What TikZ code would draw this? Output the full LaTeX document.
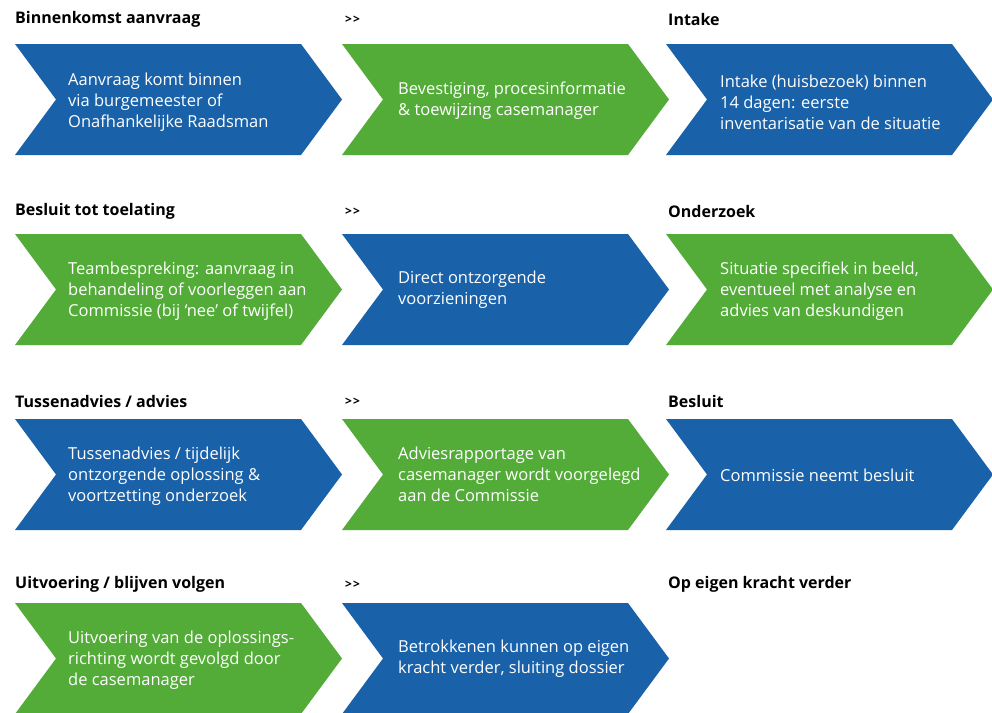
\documentclass[tikz,border=0pt]{standalone}
\usepackage{fontspec}
\setmainfont{Open Sans}
\definecolor{roblue}{HTML}{1961A8}
\definecolor{rogreen}{HTML}{53AC38}
\newcommand{\chevshape}[3]{%
  \fill[#3] (#1,#2) -- ++(286,0) -- ++(41,55.5) -- ++(-41,55.5) -- ++(-286,0) -- ++(41,-55.5) -- cycle;}
\newcommand{\gtgt}{{>}\kern1pt{>}}
\tikzset{
  x=1pt, y=-1pt,
  heading/.style={anchor=west, inner sep=0pt, font=\fontsize{16}{19}\selectfont\bfseries, text=black},
  sep/.style={anchor=west, inner sep=0pt, font=\fontsize{12}{14}\selectfont\bfseries, text=black},
  body/.style={anchor=west, inner sep=0pt, align=left, font=\fontsize{16.5}{21}\selectfont, text=white},
}
\begin{document}
\begin{tikzpicture}
\useasboundingbox (0,0) rectangle (992,712);
\fill[white] (0,0) rectangle (992,712);
% Row 1
\node[heading] (h11) at (15,19) {Binnenkomst aanvraag};
\node[sep] (h12) at (345,20) {\gtgt};
\node[heading] (h13) at (668,19) {Intake};
\chevshape{15}{44}{roblue}
\chevshape{342}{44}{rogreen}
\chevshape{666}{44}{roblue}
\node[body] (t11) at (68,102) {Aanvraag komt binnen\\via burgemeester of\\Onafhankelijke Raadsman};
\node[body] (t12) at (398,101) {Bevestiging, procesinformatie\\\& toewijzing casemanager};
\node[body] (t13) at (720,102) {Intake (huisbezoek) binnen\\14 dagen: eerste\\inventarisatie van de situatie};
% Row 2
\node[heading] (h21) at (15,211) {Besluit tot toelating};
\node[sep] (h22) at (345,212) {\gtgt};
\node[heading] (h23) at (668,211) {Onderzoek};
\chevshape{15}{234}{rogreen}
\chevshape{342}{234}{roblue}
\chevshape{666}{234}{rogreen}
\node[body] (t21) at (68,291) {Teambespreking: aanvraag in\\behandeling of voorleggen aan\\Commissie (bij ‘nee’ of twijfel)};
\node[body] (t22) at (398,290) {Direct ontzorgende\\voorzieningen};
\node[body] (t23) at (720,291) {Situatie specifiek in beeld,\\eventueel met analyse en\\advies van deskundigen};
% Row 3
\node[heading] (h31) at (15,401) {Tussenadvies / advies};
\node[sep] (h32) at (345,402) {\gtgt};
\node[heading] (h33) at (668,401) {Besluit};
\chevshape{15}{419}{roblue}
\chevshape{342}{419}{rogreen}
\chevshape{666}{419}{roblue}
\node[body] (t31) at (68,476) {Tussenadvies / tijdelijk\\ontzorgende oplossing \&\\voortzetting onderzoek};
\node[body] (t32) at (398,474) {Adviesrapportage van\\casemanager wordt voorgelegd\\aan de Commissie};
\node[body] (t33) at (720,475) {Commissie neemt besluit};
% Row 4
\node[heading] (h41) at (15,584) {Uitvoering / blijven volgen};
\node[sep] (h42) at (345,585) {\gtgt};
\node[heading] (h43) at (668,584) {Op eigen kracht verder};
\chevshape{15}{603}{rogreen}
\chevshape{342}{603}{roblue}
\node[body] (t41) at (68,660) {Uitvoering van de oplossings-\\richting wordt gevolgd door\\de casemanager};
\node[body] (t42) at (398,659) {Betrokkenen kunnen op eigen\\kracht verder, sluiting dossier};
\end{tikzpicture}
\end{document}
